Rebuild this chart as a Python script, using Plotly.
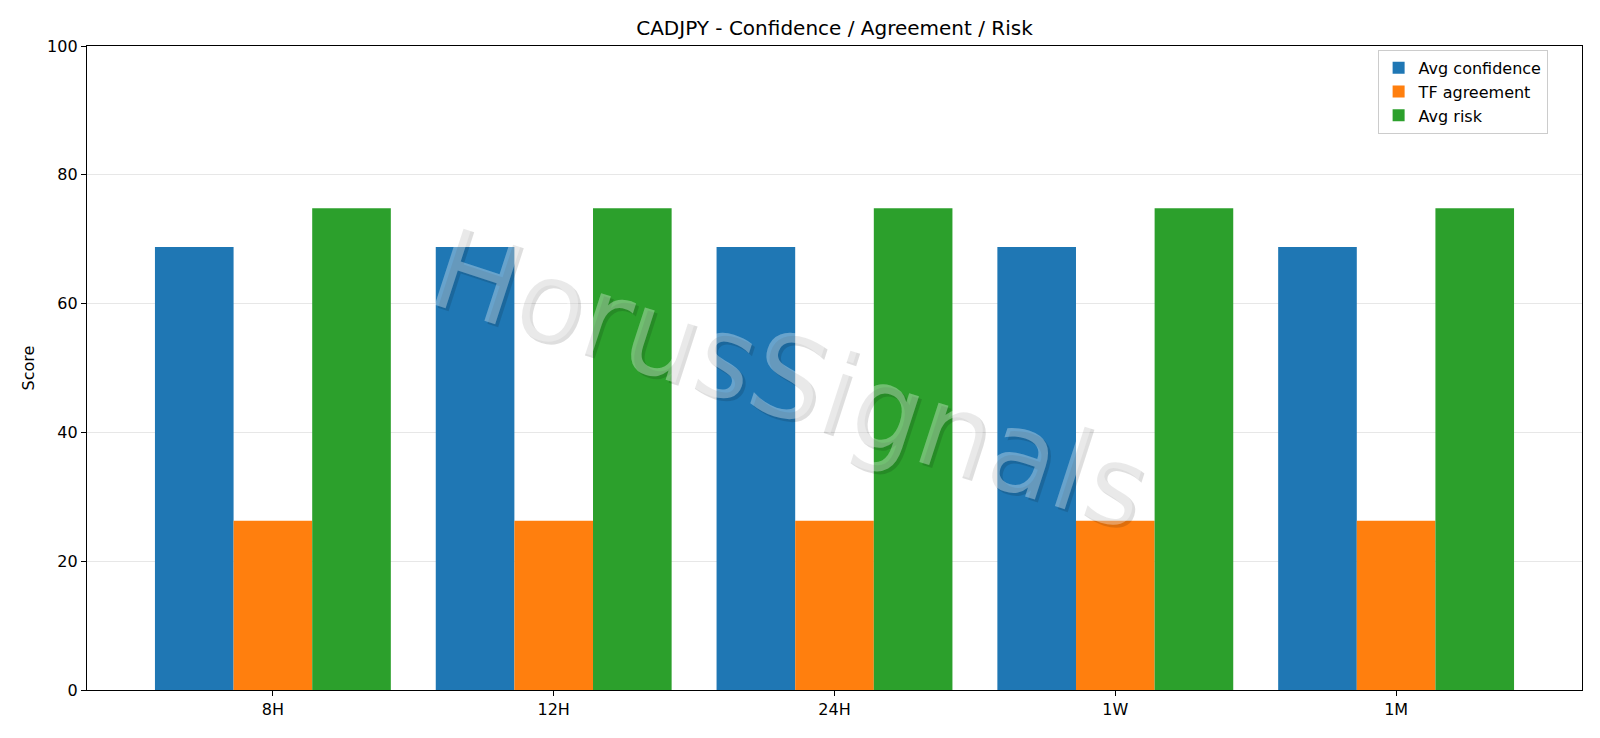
import plotly.graph_objects as go

pair = 'CADJPY'
timeframes = ['8H', '12H', '24H', '1W', '1M']

avg_confidence = [68.8, 68.8, 68.8, 68.8, 68.8]
tf_agreement = [26.3, 26.3, 26.3, 26.3, 26.3]
avg_risk = [74.8, 74.8, 74.8, 74.8, 74.8]

y_ticks = [0, 20, 40, 60, 80, 100]

font = 'DejaVu Sans'

fig = go.Figure()
fig.add_trace(go.Bar(x=timeframes, y=avg_confidence, name='Avg confidence',
                     marker=dict(color='#1f77b4', line=dict(width=0))))
fig.add_trace(go.Bar(x=timeframes, y=tf_agreement, name='TF agreement',
                     marker=dict(color='#ff7f0e', line=dict(width=0))))
fig.add_trace(go.Bar(x=timeframes, y=avg_risk, name='Avg risk',
                     marker=dict(color='#2ca02c', line=dict(width=0))))

# watermark: shadow first, then the light text over it
wm_x = (790 - 87) / 1495
wm_y = (690 - 379) / 644
fig.add_annotation(text='HorusSignals', xref='paper', yref='paper', x=wm_x, y=wm_y,
                   xshift=3, yshift=-3, showarrow=False, textangle=18,
                   font=dict(family=font, size=114, color='rgba(0,0,0,0.13)'))
fig.add_annotation(text='HorusSignals', xref='paper', yref='paper', x=wm_x, y=wm_y,
                   showarrow=False, textangle=18,
                   font=dict(family=font, size=114, color='rgba(255,255,255,0.33)'))

fig.update_layout(
    width=1600, height=738,
    margin=dict(l=87, r=18, t=46, b=48),
    paper_bgcolor='white', plot_bgcolor='white',
    font=dict(family=font, size=16, color='black'),
    title=dict(text=pair + ' - Confidence / Agreement / Risk', x=(87 + 1582) / 2 / 1600,
               xanchor='center', y=1 - 28 / 738, yanchor='middle', yref='container',
               font=dict(family=font, size=20, color='black')),
    barmode='group', bargap=0.16, bargroupgap=0,
    showlegend=True,
    legend=dict(x=0.977, y=0.994, xanchor='right', yanchor='top',
                bgcolor='rgba(255,255,255,0.8)', bordercolor='#cccccc', borderwidth=1,
                font=dict(family=font, size=16, color='black')),
    xaxis=dict(type='category', range=[-0.662, 4.662], showgrid=False,
               showline=True, linecolor='black', linewidth=1.3, mirror=True,
               ticks='outside', ticklen=5, tickwidth=1.3, tickcolor='black',
               tickfont=dict(size=16), layer='above traces'),
    yaxis=dict(range=[0, 100], tickvals=y_ticks, showgrid=True,
               gridcolor='rgba(176,176,176,0.3)', gridwidth=1,
               showline=True, linecolor='black', linewidth=1.3, mirror=True,
               ticks='outside', ticklen=5, tickwidth=1.3, tickcolor='black',
               tickfont=dict(size=16), zeroline=False, layer='above traces',
               title=dict(text='Score', font=dict(size=16), standoff=8)),
)

# page body has a default 8px margin, drop it so the figure sits at 0,0
fig.write_html('out.html', config={'displayModeBar': False},
               post_script="document.body.style.margin='0';")
